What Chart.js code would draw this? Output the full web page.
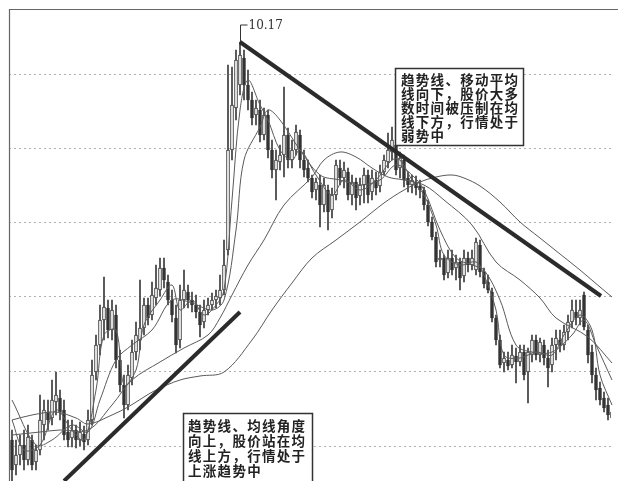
<!DOCTYPE html>
<html>
<head>
<meta charset="utf-8">
<script src="https://cdn.jsdelivr.net/npm/chart.js@4"></script>
<style>
html,body{margin:0;padding:0;background:#fff;}
canvas{display:block;}
</style>
</head>
<body>
<canvas id="c" width="618" height="481"></canvas>
<script>
// ---- candle data (one candle per trading day, index 0..150) ----
const opens = [
6.19,5.94,6.04,6.14,5.99,6.19,5.97,6.09,6.34,6.47,
6.41,6.57,6.61,6.49,6.27,6.21,6.29,6.19,6.25,6.19,
6.39,6.87,7.14,7.39,7.51,7.29,7.44,6.99,6.74,6.54,
6.81,7.07,7.19,7.31,7.54,7.44,7.61,7.69,7.91,7.77,
7.59,7.41,7.19,7.59,7.67,7.59,7.54,7.47,7.37,7.49,
7.54,7.59,7.61,7.69,8.09,9.09,9.51,9.74,10.01,9.74,
9.59,9.44,9.49,9.24,9.44,9.09,8.89,8.97,9.04,9.24,
8.99,9.09,9.24,8.99,8.91,8.81,8.69,8.74,8.54,8.69,
8.49,8.64,8.91,8.81,8.87,8.64,8.77,8.63,8.74,8.84,
8.67,8.79,8.73,8.87,8.97,9.07,9.14,8.91,8.99,8.81,
8.74,8.77,8.73,8.69,8.54,8.37,8.22,7.99,8.01,7.86,
8.01,7.91,7.97,7.83,8.01,7.94,7.89,8.14,7.87,7.77,
7.67,7.41,7.19,6.96,6.99,6.94,7.03,6.97,7.07,6.87,
7.04,7.19,7.04,7.14,7.01,6.94,7.14,7.19,7.14,7.27,
7.37,7.47,7.41,7.64,7.29,7.07,6.84,6.71,6.61,6.54,
6.47];
const closes = [
5.89,6.04,6.14,5.99,6.22,5.94,6.09,6.39,6.49,6.39,
6.59,6.64,6.47,6.24,6.19,6.29,6.19,6.27,6.17,6.39,
6.84,7.14,7.39,7.52,7.29,7.49,6.99,6.74,6.54,6.84,
7.07,7.24,7.31,7.54,7.41,7.64,7.71,7.91,7.79,7.59,
7.44,7.14,7.59,7.69,7.59,7.54,7.47,7.34,7.49,7.54,
7.59,7.63,7.69,7.94,9.09,9.54,9.99,10.04,9.74,9.59,
9.41,9.51,9.24,9.44,9.09,8.89,8.99,9.04,9.24,8.99,
9.09,9.27,8.99,8.89,8.81,8.67,8.77,8.54,8.74,8.47,
8.64,8.94,8.81,8.89,8.64,8.77,8.61,8.74,8.84,8.64,
8.81,8.71,8.87,8.99,9.09,9.19,8.89,9.01,8.79,8.74,
8.79,8.71,8.69,8.54,8.37,8.22,7.97,8.01,7.84,8.01,
7.89,7.97,7.81,8.01,7.94,8.01,8.17,7.87,7.75,7.69,
7.41,7.19,6.94,7.01,6.93,7.04,6.97,7.07,6.84,7.07,
7.19,7.04,7.17,7.01,6.91,7.14,7.21,7.14,7.27,7.37,
7.49,7.41,7.49,7.32,7.04,6.84,6.69,6.59,6.51,6.44,
6.41];
const highs = [
6.29,6.19,6.24,6.29,6.34,6.24,6.14,6.64,6.59,6.59,
6.79,6.87,6.69,6.59,6.39,6.39,6.34,6.37,6.33,6.49,
6.99,7.24,7.54,7.82,7.59,7.59,7.54,7.09,6.84,6.94,
7.19,7.37,7.79,7.61,7.61,7.77,7.94,8.01,8.01,7.84,
7.69,7.54,7.74,7.89,7.74,7.67,7.64,7.54,7.59,7.61,
7.66,7.69,7.84,8.19,9.94,9.92,10.09,10.17,10.09,9.89,
9.67,9.59,9.59,9.51,9.49,9.19,9.09,9.14,9.72,9.31,
9.19,9.34,9.29,9.09,8.99,8.84,8.81,8.84,8.81,8.74,
8.71,8.99,8.99,8.97,8.91,8.84,8.81,8.81,8.91,8.89,
8.89,8.87,8.94,9.04,9.26,9.32,9.19,9.07,9.04,8.87,
8.84,8.83,8.79,8.72,8.59,8.42,8.27,8.09,8.04,8.09,
8.09,8.04,8.01,8.09,8.07,8.09,8.21,8.19,7.91,7.84,
7.71,7.44,7.24,7.07,7.07,7.14,7.11,7.14,7.14,7.11,
7.24,7.24,7.21,7.19,7.09,7.21,7.29,7.29,7.34,7.44,
7.59,7.59,7.59,7.67,7.34,7.14,6.91,6.77,6.67,6.61,
6.54];
const lows = [
5.78,5.84,5.94,5.89,5.94,5.89,5.89,6.04,6.19,6.29,
6.34,6.44,6.39,6.19,6.12,6.12,6.11,6.13,6.09,6.14,
6.34,6.79,7.04,7.19,7.21,7.19,6.91,6.67,6.41,6.49,
6.74,6.99,7.09,7.24,7.34,7.39,7.54,7.63,7.71,7.54,
7.37,7.06,7.11,7.51,7.51,7.47,7.41,7.22,7.31,7.44,
7.49,7.51,7.54,7.64,8.04,8.99,9.39,9.64,9.59,9.49,
9.34,9.34,9.17,9.19,9.01,8.81,8.59,8.89,8.82,8.91,
8.91,9.04,8.91,8.82,8.77,8.61,8.59,8.32,8.47,8.29,
8.41,8.59,8.74,8.71,8.59,8.54,8.49,8.54,8.56,8.56,
8.59,8.64,8.67,8.84,8.91,8.99,8.84,8.81,8.72,8.67,
8.66,8.64,8.61,8.49,8.33,8.19,7.92,7.92,7.79,7.81,
7.84,7.79,7.69,7.77,7.87,7.89,7.84,7.82,7.71,7.66,
7.37,7.14,6.91,6.87,6.89,6.91,6.76,6.93,6.79,6.56,
6.97,6.99,6.97,6.94,6.72,6.87,6.99,7.07,7.09,7.19,
7.31,7.34,7.34,7.29,6.96,6.76,6.59,6.54,6.47,6.39,
6.26];

// ---- moving average lines (day index, value) ----
const ma5Idx  = [0,3,7,11,15,18,21,23,26,28,31,33,37,40,42,45,48,51,53,55,57,59,62,64,67,70,72,76,80,83,87,91,95,97,100,103,106,108,112,116,118,121,123,127,131,135,138,142,145,147,150];
const ma5Val  = [6.39,6.09,6.14,6.49,6.29,6.19,6.69,7.24,7.29,6.74,6.89,7.34,7.59,7.74,7.49,7.59,7.44,7.54,7.69,8.59,9.49,9.79,9.54,9.39,9.09,8.99,9.09,8.84,8.64,8.79,8.69,8.79,8.99,8.99,8.79,8.64,8.34,8.04,7.94,7.97,7.84,7.49,7.04,7.01,7.07,7.04,7.24,7.44,7.29,6.84,6.54];
const ma10Idx = [0,6,10,15,19,22,26,30,35,40,45,50,53,56,58,62,64,67,72,77,82,87,92,96,100,103,107,111,115,118,122,126,130,135,140,143,146,150];
const ma10Val = [6.59,6.14,6.19,6.34,6.27,6.59,6.99,7.14,7.29,7.59,7.56,7.49,7.59,8.29,8.99,9.32,9.49,9.39,9.09,8.84,8.79,8.74,8.79,8.94,8.84,8.69,8.29,8.01,7.94,7.89,7.59,7.14,7.07,7.07,7.24,7.39,7.14,6.79];
const ma20Idx = [0,7,12,19,25,30,37,43,49,52,55,59,63,68,75,78,82,86,90,94,98,103,108,115,121,127,132,136,144,150];
const ma20Val = [6.24,6.27,6.29,6.29,6.54,6.79,6.97,7.11,7.24,7.41,7.64,7.94,8.19,8.54,8.82,8.99,9.07,9.02,8.91,8.82,8.79,8.74,8.59,8.34,7.97,7.79,7.61,7.41,7.22,6.96];
const ma60Idx = [0,5,11,16,19,25,29,33,36,42,47,53,60,65,70,75,81,87,93,98,102,106,110,113,117,122,127,132,137,142,147,150];
const ma60Val = [6.39,6.44,6.47,6.41,6.35,6.44,6.52,6.62,6.69,6.79,6.83,6.87,7.19,7.49,7.76,8.01,8.19,8.37,8.56,8.69,8.77,8.82,8.84,8.81,8.73,8.57,8.37,8.21,8.05,7.89,7.72,7.62];

// ---- trend lines (day index, value) ----
const downTrendIdx = [57, 147.25];
const downTrendVal = [10.17, 7.63];
const upTrendIdx = [13, 57];
const upTrendVal = [5.78, 7.47];

// ---- horizontal grid levels ----
const gridLevels = [9.85, 9.11, 8.37, 7.62, 6.88, 6.13];

// ---- annotation texts ----
const noteTop = ["趋势线、移动平均","线向下，股价大多","数时间被压制在均","线下方，行情处于","弱势中"];
const noteBottom = ["趋势线、均线角度","向上，股价站在均","线上方，行情处于","上涨趋势中"];

// ---- build datasets ----
const bodies = opens.map((o,i)=>({x:i, y:[o, closes[i]], up: closes[i] >= o}));
const wicks = lows.map((l,i)=>({x:i, y:[l, highs[i]]}));
const toPts = (xs, ys) => xs.map((x,i)=>({x:x, y:ys[i]}));
const peakVal = Math.max(...highs);
const peakIdx = highs.indexOf(peakVal);

const maStyle = {type:'line', borderColor:'#5a5a5a', borderWidth:1, pointRadius:0, tension:0.35, order:1, clip:false};
const trendStyle = {type:'line', borderColor:'#2b2b2b', borderWidth:4, pointRadius:0, order:0, clip:false};

const overlay = {
  id:'overlay',
  beforeDraw(chart){
    const c = chart.ctx;
    c.save(); c.fillStyle='#ffffff'; c.fillRect(0,0,chart.width,chart.height); c.restore();
  },
  afterDatasetsDraw(chart){
    const c = chart.ctx;
    const xs = chart.scales.x, ys = chart.scales.y;
    c.save();
    // frame
    c.strokeStyle = '#666'; c.lineWidth = 1.2;
    c.beginPath(); c.moveTo(9,9.5); c.lineTo(618,9.5); c.stroke();
    c.beginPath(); c.moveTo(9.5,9); c.lineTo(9.5,481); c.stroke();
    // peak label
    const px = Math.round(xs.getPixelForValue(peakIdx)) + 0.5;
    const py = ys.getPixelForValue(peakVal);
    c.strokeStyle = '#333'; c.lineWidth = 1;
    c.beginPath(); c.moveTo(px, py); c.lineTo(px, py-17); c.lineTo(px+7, py-17); c.stroke();
    c.fillStyle = '#333'; c.font = '12px "DejaVu Serif", serif';
    c.textBaseline = 'middle'; c.textAlign = 'left';
    c.fillText(peakVal.toFixed(2), px+8, py-16);
    // note boxes
    const drawBox = (x0,y0,x1,y1,lines,tx,ty,lh) => {
      c.fillStyle = '#fff'; c.fillRect(x0,y0,x1-x0,y1-y0);
      c.strokeStyle = '#333'; c.lineWidth = 1.5; c.strokeRect(x0,y0,x1-x0,y1-y0);
      c.fillStyle = '#222'; c.font = 'bold 13.5px "Noto Sans CJK SC"';
      c.textBaseline = 'middle';
      try { c.letterSpacing = '1.3px'; } catch(e) {}
      lines.forEach((t,k)=>c.fillText(t, tx, ty + k*lh));
      try { c.letterSpacing = '0px'; } catch(e) {}
    };
    drawBox(395.5,68.5,523.5,145.5, noteTop, 401, 80, 14);
    drawBox(183.5,413.5,312.5,482, noteBottom, 188, 426, 15);
    c.restore();
  }
};

new Chart(document.getElementById('c'), {
  type:'bar',
  data:{
    datasets:[
      {type:'bar', data:wicks, backgroundColor:'#3a3a3a', barThickness:1, grouped:false, order:3, borderWidth:0},
      {type:'bar', data:bodies, grouped:false, order:2, barThickness:3, borderSkipped:false, borderWidth:1,
        backgroundColor: ctx => (ctx.raw && ctx.raw.up) ? '#ffffff' : '#333333',
        borderColor:'#333333'},
      Object.assign({data:toPts(ma5Idx, ma5Val)}, maStyle),
      Object.assign({data:toPts(ma10Idx, ma10Val)}, maStyle),
      Object.assign({data:toPts(ma20Idx, ma20Val)}, maStyle),
      Object.assign({data:toPts(ma60Idx, ma60Val)}, maStyle),
      Object.assign({data:toPts(downTrendIdx, downTrendVal)}, trendStyle),
      Object.assign({data:toPts(upTrendIdx, upTrendVal)}, trendStyle)
    ]
  },
  options:{
    responsive:false, animation:false,
    layout:{padding:{left:9, top:9, right:7, bottom:0}},
    plugins:{legend:{display:false}, tooltip:{enabled:false}},
    scales:{
      x:{type:'linear', min:-0.75, max:149.75, display:false, offset:false},
      y:{type:'linear', min:5.78, max:10.50, display:true,
        ticks:{display:false},
        grid:{drawTicks:false, color:'#b0b0b0', lineWidth:1},
        border:{display:false, dash:[2,3]},
        afterBuildTicks: axis => { axis.ticks = gridLevels.map(v=>({value:v})); },
        afterFit: axis => { axis.width = 0; }
      }
    }
  },
  plugins:[overlay]
});
</script>
</body>
</html>
